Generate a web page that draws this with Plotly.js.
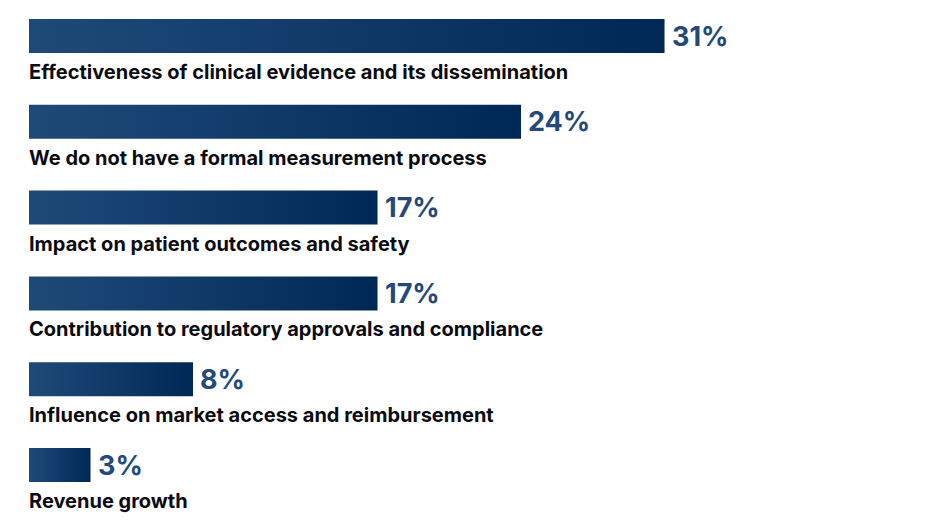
<!DOCTYPE html>
<html>
<head>
<meta charset="utf-8">
<script src="https://cdn.plot.ly/plotly-3.0.1.min.js"></script>
<style>
  html, body { margin: 0; padding: 0; background: #ffffff; }
  #chart { width: 929px; height: 527px; }
</style>
</head>
<body>
<div id="chart"></div>
<script>
// survey answers, top to bottom
const CATEGORIES = [
	'Effectiveness of clinical evidence and its dissemination',
	'We do not have a formal measurement process',
	'Impact on patient outcomes and safety',
	'Contribution to regulatory approvals and compliance',
	'Influence on market access and reimbursement',
	'Revenue growth'
];
const VALUES = [ 31, 24, 17, 17, 8, 3 ];

const BAR_HALF     = 0.198;
const LABEL_OFFSET = 0.42;
const GRADIENT     = [ [ 0, '#1f4a78' ], [ 1, '#002857' ] ];
const FONT         = 'Inter, "Open Sans", sans-serif';

function make_bar( v, i ) {
	return {
		x: [ 0, v, v, 0, 0 ],
		y: [ i - BAR_HALF, i - BAR_HALF, i + BAR_HALF, i + BAR_HALF, i - BAR_HALF ],
		mode: 'lines',
		line: { width: 0 },
		fill: 'toself',
		fillgradient: { type: 'horizontal', colorscale: GRADIENT, start: 0, stop: v },
		hoverinfo: 'skip',
		showlegend: false
	};
}

let traces      = VALUES.map( make_bar );
let annotations = [];

for ( let i = 0; i < CATEGORIES.length; i++ ) {
	annotations.push( {
		x: 0, y: i + LABEL_OFFSET, xref: 'x', yref: 'y',
		text: CATEGORIES[ i ], showarrow: false,
		xanchor: 'left', yanchor: 'middle', xshift: -2,
		font: { family: FONT, size: 20, color: '#0b0b0f', weight: 700 }
	} );
	annotations.push( {
		x: VALUES[ i ], y: i, xref: 'x', yref: 'y',
		text: VALUES[ i ] + '%', showarrow: false,
		xanchor: 'left', yanchor: 'middle', xshift: 5,
		font: { family: FONT, size: 27, color: '#24497a', weight: 700 }
	} );
}

const layout = {
	width        : 929,
	height       : 527,
	margin       : { l: 0, r: 0, t: 0, b: 0 },
	paper_bgcolor: '#ffffff',
	plot_bgcolor : '#ffffff',
	xaxis: { range: [ -1.4146, 43.9 ], visible: false, fixedrange: true },
	yaxis: { range: [ 5.7226, -0.4196 ], visible: false, fixedrange: true },
	annotations: annotations
};

Plotly.newPlot( 'chart', traces, layout, { displayModeBar: false, staticPlot: true } );
</script>
</body>
</html>
